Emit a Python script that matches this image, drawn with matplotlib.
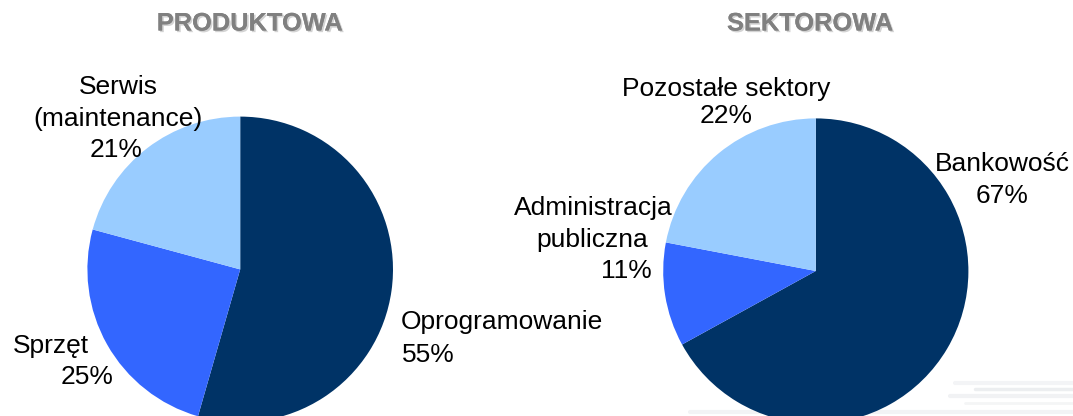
import matplotlib.pyplot as plt
import matplotlib.patheffects as pe

plt.rcParams['font.family'] = ['Liberation Sans', 'DejaVu Sans']

# data
prod_labels = ['Oprogramowanie', 'Sprzęt', 'Serwis\n(maintenance)']
prod_values = [55, 25, 21]
sect_labels = ['Bankowość', 'Administracja\npubliczna', 'Pozostałe sektory']
sect_values = [67, 11, 22]
colors = ['#003366', '#3366FF', '#99CCFF']

W, H = 1073, 416
fig = plt.figure(figsize=(W / 100, H / 100), dpi=100)
ax = fig.add_axes([0, 0, 1, 1])

# pies, positioned in pixel units (y measured from the top)
ax.pie(prod_values, colors=colors, startangle=90, counterclock=False,
       center=(240.2, H - 269.4), radius=152.8, frame=True,
       wedgeprops=dict(linewidth=0))
ax.pie(sect_values, colors=colors, startangle=90, counterclock=False,
       center=(815.8, H - 271), radius=152.6, frame=True,
       wedgeprops=dict(linewidth=0))
ax.set_aspect('auto')
ax.set_xlim(0, W)
ax.set_ylim(0, H)
ax.axis('off')

# faint background swoosh, bottom right (under the pie)
for x0, x1, y, c, lw in [(955, 1073, 383, '#f3f4f6', 3), (975, 1073, 389, '#eceef0', 2.5),
                         (950, 1073, 396, '#f1f2f4', 3), (965, 1073, 403, '#f4f5f6', 2),
                         (690, 1073, 412, '#f2f3f5', 3)]:
    ax.plot([x0, x1], [H - y, H - y], color=c, lw=lw, solid_capstyle='round', zorder=0)

shadow = [pe.withSimplePatchShadow(offset=(1.2, -1.2), shadow_rgbFace='#c8c8c8', alpha=0.8), pe.Normal()]
ax.text(249.7, H - 30.5, 'PRODUKTOWA', fontsize=18.3, fontweight='bold', color='#808080',
        ha='center', va='baseline', path_effects=shadow)
ax.text(810, H - 30.5, 'SEKTOROWA', fontsize=18.3, fontweight='bold', color='#808080',
        ha='center', va='baseline', path_effects=shadow)

fs = 19


def put(x, y, s, ha='center'):
    ax.text(x, H - y, s, fontsize=fs, ha=ha, va='baseline', color='black')


pct = lambda v: f'{v}%'

# PRODUKTOWA labels
serwis = prod_labels[2].split('\n')
put(118, 94.3, serwis[0])
put(118, 126.3, serwis[1])
put(116, 157.3, pct(prod_values[2]))
put(12.7, 353.3, prod_labels[1], ha='left')
put(61, 384, pct(prod_values[1]), ha='left')
put(400.7, 329.3, prod_labels[0], ha='left')
put(401.5, 361.7, pct(prod_values[0]), ha='left')

# SEKTOROWA labels
put(725.8, 96, sect_labels[2])
put(725.8, 123.3, pct(sect_values[2]))
put(1002.3, 170.7, sect_labels[0])
put(1002.3, 203.3, pct(sect_values[0]))
admin = sect_labels[1].split('\n')
put(593, 215, admin[0])
put(592.5, 246.7, admin[1])
put(626, 278.3, pct(sect_values[1]))

fig.savefig('out.png', dpi=100)
